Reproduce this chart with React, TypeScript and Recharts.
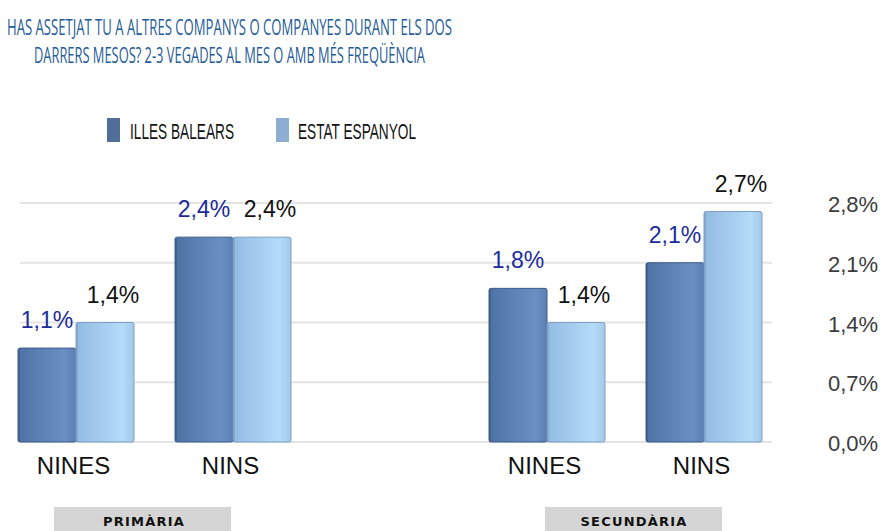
import { BarChart, Bar, XAxis, YAxis, CartesianGrid, LabelList } from 'recharts'

const categories = ['NINES', 'NINS', '', 'NINES', 'NINS']
const illesBalears = [1.1, 2.4, null, 1.8, 2.1]
const estatEspanyol = [1.4, 2.4, null, 1.4, 2.7]
const yTicks = [0, 0.7, 1.4, 2.1, 2.8]
const stages = ['PRIMÀRIA', 'SECUNDÀRIA']

const data = categories.map((c, i) => ({
  id: i,
  name: c,
  balears: illesBalears[i],
  estat: estatEspanyol[i],
}))

const fmt = (v: number) => v.toFixed(1).replace('.', ',') + '%'

function BarShape(props: any) {
  const { x, y, width, height, fill, edge } = props
  if (!height || height <= 0) return null
  return (
    <g>
      <rect x={x} y={y} width={width} height={height} fill={fill} stroke={edge} strokeWidth={1} rx={2} />
      <line x1={x + 1} y1={y + 1} x2={x + 1} y2={y + height} stroke={edge} strokeWidth={2} opacity={0.7} />
    </g>
  )
}

function makeLabel(color: string, dx: number) {
  return (props: any) => {
    const { x, y, width, value } = props
    if (value == null) return null
    return (
      <text x={x + width / 2 + dx} y={y - 20} textAnchor="middle" fontSize={23}
        fontFamily="Liberation Sans, Arial, sans-serif" fill={color}>
        {fmt(value)}
      </text>
    )
  }
}

function XTick(props: any) {
  const { x, payload } = props
  const label = categories[payload.value]
  if (!label) return null
  return (
    <text x={x - 2} y={474} textAnchor="middle" fontSize={24}
      fontFamily="Liberation Sans, Arial, sans-serif" fill="#111">
      {label}
    </text>
  )
}

function YTick(props: any) {
  const { y, payload } = props
  return (
    <text x={853} y={y + 9} textAnchor="middle" fontSize={22}
      fontFamily="Liberation Sans, Arial, sans-serif" fill="#3c3c3c">
      {fmt(payload.value)}
    </text>
  )
}

export default function App() {
  return (
    <div style={{ position: 'relative', width: 885, height: 531, background: '#fff', overflow: 'hidden' }}>
      <style>{'body{margin:0}'}</style>
      <BarChart width={885} height={531} data={data} barGap={0} barSize={58}
        margin={{ top: 203, right: 0, left: -3, bottom: 49 }}>
        <defs>
          <linearGradient id="gDark" x1="0" y1="0" x2="1" y2="0">
            <stop offset="0%" stopColor="#4d72a4" />
            <stop offset="80%" stopColor="#6a8fc3" />
            <stop offset="100%" stopColor="#5b7fb2" />
          </linearGradient>
          <linearGradient id="gLight" x1="0" y1="0" x2="1" y2="0">
            <stop offset="0%" stopColor="#92bbe2" />
            <stop offset="80%" stopColor="#b4dbf8" />
            <stop offset="100%" stopColor="#a3c9ea" />
          </linearGradient>
        </defs>
        <CartesianGrid vertical={false} stroke="#e4e4e4" strokeWidth={2} x={20} width={752} />
        <XAxis dataKey="id" type="category" height={40} axisLine={false} tickLine={false} tick={<XTick />} interval={0} />
        <YAxis orientation="right" width={103} domain={[0, 2.8]} ticks={yTicks} axisLine={false}
          tickLine={false} tick={<YTick />} />
        <Bar dataKey="balears" fill="url(#gDark)" isAnimationActive={false}
          shape={(p: any) => <BarShape {...p} fill="url(#gDark)" edge="#3e5c88" />}>
          <LabelList dataKey="balears" content={makeLabel('#1b2b9c', 0)} />
        </Bar>
        <Bar dataKey="estat" fill="url(#gLight)" isAnimationActive={false}
          shape={(p: any) => <BarShape {...p} fill="url(#gLight)" edge="#7f9fc4" />}>
          <LabelList dataKey="estat" content={makeLabel('#111', 8)} />
        </Bar>
      </BarChart>
      <svg width={885} height={531} style={{ position: 'absolute', left: 0, top: 0, pointerEvents: 'none' }}>
        <g fontFamily="Open Sans, Noto Sans, sans-serif" fontSize={22} fill="#1f5c99">
          <text x={7} y={35} textLength={445} lengthAdjust="spacingAndGlyphs">
            HAS ASSETJAT TU A ALTRES COMPANYS O COMPANYES DURANT ELS DOS
          </text>
          <text x={34} y={63} textLength={391} lengthAdjust="spacingAndGlyphs">
            DARRERS MESOS? 2-3 VEGADES AL MES O AMB MÉS FREQÜÈNCIA
          </text>
        </g>
        <rect x={107} y={118} width={13} height={24} fill="#4f6f99" />
        <rect x={276} y={118} width={13} height={24} fill="#8eaed1" />
        <g fontFamily="Liberation Sans, Arial, sans-serif" fontSize={22} fill="#111">
          <text x={130} y={139} textLength={104} lengthAdjust="spacingAndGlyphs">ILLES BALEARS</text>
          <text x={298} y={139} textLength={118} lengthAdjust="spacingAndGlyphs">ESTAT ESPANYOL</text>
        </g>
        <rect x={54} y={507} width={177} height={30} fill="#d5d5d5" />
        <rect x={545} y={507} width={177} height={30} fill="#d5d5d5" />
        <g fontFamily="DejaVu Sans, sans-serif" fontSize={13} fontWeight="bold" fill="#111"
          letterSpacing={1.2} textAnchor="middle">
          <text x={144} y={526}>{stages[0]}</text>
          <text x={634} y={526}>{stages[1]}</text>
        </g>
      </svg>
    </div>
  )
}
